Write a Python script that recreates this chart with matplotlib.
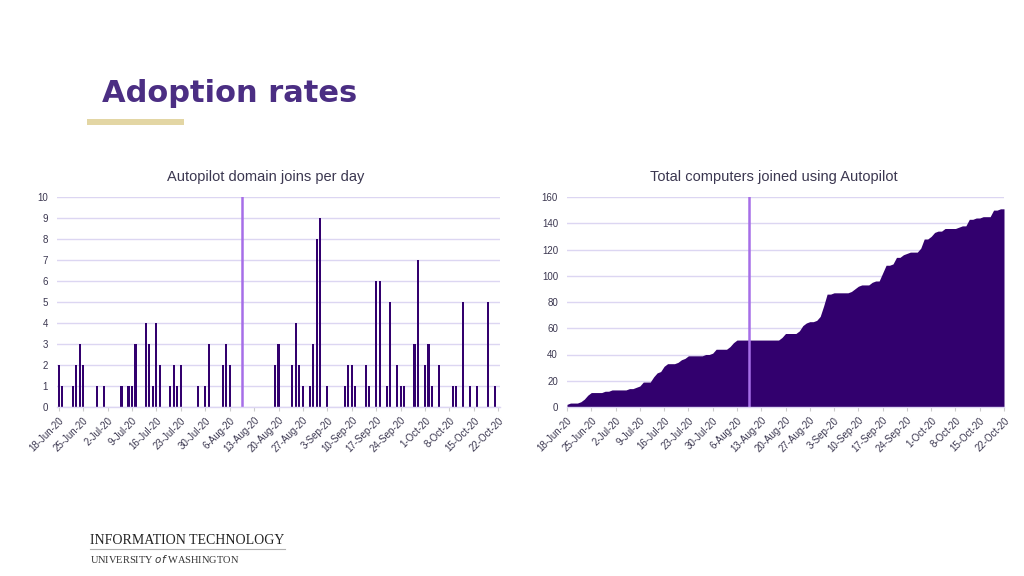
import matplotlib
matplotlib.use("Agg")
import matplotlib.pyplot as plt
import numpy as np
import pandas as pd

# ---------------- data ----------------
start_date = "2020-06-18"
n_days = 127
daily_joins = [
    2, 1, 0, 0, 1, 2, 3, 2, 0, 0,
    0, 1, 0, 1, 0, 0, 0, 0, 1, 0,
    1, 1, 3, 0, 0, 4, 3, 1, 4, 2,
    0, 0, 1, 2, 1, 2, 0, 0, 0, 0,
    1, 0, 1, 3, 0, 0, 0, 2, 3, 2,
    0, 0, 0, 0, 0, 0, 0, 0, 0, 0,
    0, 0, 2, 3, 0, 0, 0, 2, 4, 2,
    1, 0, 1, 3, 8, 9, 0, 1, 0, 0,
    0, 0, 1, 2, 2, 1, 0, 0, 2, 1,
    0, 6, 6, 0, 1, 5, 0, 2, 1, 1,
    0, 0, 3, 7, 0, 2, 3, 1, 0, 2,
    0, 0, 0, 1, 1, 0, 5, 0, 1, 0,
    1, 0, 0, 5, 0, 1, 0,
]
total_joined = [
    2, 3, 3, 3, 4, 6, 9, 11, 11, 11,
    11, 12, 12, 13, 13, 13, 13, 13, 14, 14,
    15, 16, 19, 19, 19, 23, 26, 27, 31, 33,
    33, 33, 34, 36, 37, 39, 39, 39, 39, 39,
    40, 40, 41, 44, 44, 44, 44, 46, 49, 51,
    51, 51, 51, 51, 51, 51, 51, 51, 51, 51,
    51, 51, 53, 56, 56, 56, 56, 58, 62, 64,
    65, 65, 66, 69, 77, 86, 86, 87, 87, 87,
    87, 87, 88, 90, 92, 93, 93, 93, 95, 96,
    96, 102, 108, 108, 109, 114, 114, 116, 117, 118,
    118, 118, 121, 128, 128, 130, 133, 134, 134, 136,
    136, 136, 136, 137, 138, 138, 143, 143, 144, 144,
    145, 145, 145, 150, 150, 151, 151,
]
tick_labels = ["18-Jun-20", "25-Jun-20", "2-Jul-20", "9-Jul-20", "16-Jul-20",
               "23-Jul-20", "30-Jul-20", "6-Aug-20", "13-Aug-20", "20-Aug-20",
               "27-Aug-20", "3-Sep-20", "10-Sep-20", "17-Sep-20", "24-Sep-20",
               "1-Oct-20", "8-Oct-20", "15-Oct-20", "22-Oct-20"]
marker_date = "2020-08-09 13:00"
left_title = "Autopilot domain joins per day"
right_title = "Total computers joined using Autopilot"

# ---------------- style ----------------
purple = "#32006e"
marker_color = "#a66ee8"
grid_color = "#dcd6f2"
text_color = "#3b3750"

plt.rcParams["font.family"] = ["Liberation Sans", "DejaVu Sans"]

dates = pd.date_range(start_date, periods=n_days)
tick_dates = pd.date_range(start_date, periods=len(tick_labels), freq="7D")

fig = plt.figure(figsize=(10.24, 5.76), dpi=100)
fig.patch.set_facecolor("white")

# Title and gold bar
fig.text(102 / 1024, 1 - 93 / 576, "Adoption rates", fontsize=22, fontweight="bold",
         color="#4b2e83", family="DejaVu Sans", va="center", ha="left")
fig.patches.append(plt.Rectangle((87 / 1024, 1 - 125 / 576), 97 / 1024, 6 / 576,
                                 transform=fig.transFigure, color="#e3d6a4", lw=0))

def style_axes(ax, ymax, ystep):
    ax.set_ylim(0, ymax)
    ax.set_yticks(np.arange(0, ymax + 1, ystep))
    ax.grid(axis="y", color=grid_color, linewidth=1)
    ax.set_axisbelow(True)
    for s in ["top", "right", "left"]:
        ax.spines[s].set_visible(False)
    ax.spines["bottom"].set_color(grid_color)
    ax.spines["bottom"].set_linewidth(1)
    ax.set_xticks(tick_dates)
    ax.set_xticklabels(tick_labels, rotation=45, ha="right", rotation_mode="anchor",
                       fontsize=7, color=text_color)
    ax.tick_params(axis="x", length=3, color="#cccccc", pad=3)
    ax.tick_params(axis="y", length=0, labelsize=7, labelcolor=text_color, pad=6.5)

# Left chart
ax1 = fig.add_axes([57 / 1024, 1 - 407 / 576, 443 / 1024, 210 / 576])
ax1.bar(dates, daily_joins, width=0.6, color=purple)
ax1.set_xlim(dates[0] - pd.Timedelta(hours=12), dates[-1] + pd.Timedelta(hours=12))
style_axes(ax1, 10, 1)
ax1.axvline(pd.Timestamp(marker_date), color=marker_color, lw=1.8)
fig.text(266 / 1024, 1 - 177 / 576, left_title, fontsize=10.5, color=text_color,
         ha="center", va="center")

# Right chart
ax2 = fig.add_axes([567 / 1024, 1 - 407 / 576, 437 / 1024, 210 / 576])
ax2.fill_between(dates, total_joined, 0, color=purple, lw=0)
ax2.set_xlim(dates[0], dates[-1])
style_axes(ax2, 160, 20)
ax2.axvline(pd.Timestamp(marker_date), color=marker_color, lw=1.8)
fig.text(774 / 1024, 1 - 177 / 576, right_title, fontsize=10.5, color=text_color,
         ha="center", va="center")

# Footer
fig.text(90 / 1024, 1 - 540 / 576, "INFORMATION TECHNOLOGY", fontsize=10,
         family=["Liberation Serif", "DejaVu Serif"], color="#222222", va="center", ha="left")
fig.add_artist(plt.Line2D([90 / 1024, 285 / 1024], [1 - 549 / 576, 1 - 549 / 576],
                          color="#b0b0b0", lw=0.8, transform=fig.transFigure))
fig.text(90 / 1024, 1 - 559 / 576, "UNIVERSITY $\\it{of}$ WASHINGTON", fontsize=7.5,
         family=["Liberation Serif", "DejaVu Serif"], color="#333333", va="center", ha="left")

fig.savefig("out.png", dpi=100, facecolor="white")
